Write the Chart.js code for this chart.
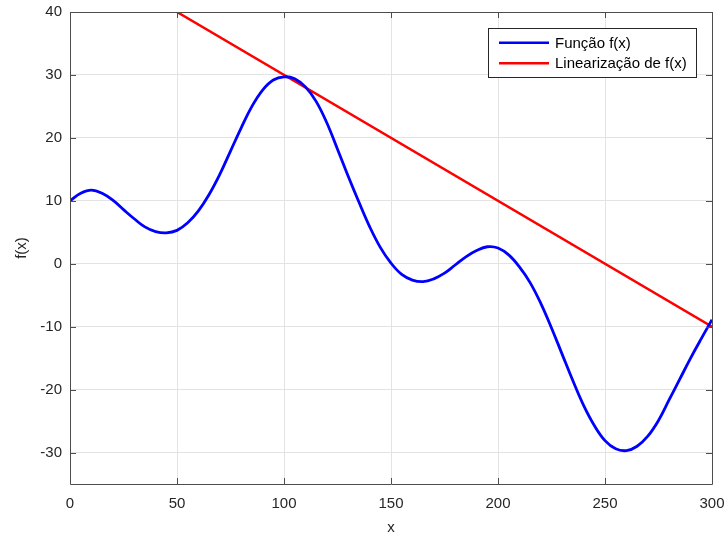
<!DOCTYPE html>
<html>
<head>
<meta charset="utf-8">
<script src="https://cdn.jsdelivr.net/npm/chart.js@4/dist/chart.umd.min.js"></script>
<style>
  html, body { margin: 0; padding: 0; background: #ffffff; }
  #wrap { width: 726px; height: 538px; }
</style>
</head>
<body>
<div id="wrap"><canvas id="c" width="726" height="538"></canvas></div>
<script>
// ---- data ----
const funcX = [0,5,10,15,20,25,30,35,40,45,50,55,60,65,70,75,80,85,90,95,100,105,110,115,120,125,130,135,140,145,150,155,160,165,170,175,180,185,190,195,200,205,210,215,220,225,230,235,240,245,250,255,260,265,270,275,280,285,290,295,300];
const funcY = [10.0,11.2,11.7,11.2,10.1,8.6,7.15,5.85,5.1,4.9,5.3,6.5,8.4,11.0,14.2,17.9,21.6,25.0,27.6,29.2,29.7,29.4,28.1,25.8,22.4,18.2,13.9,9.8,5.9,2.6,0.1,-1.7,-2.6,-2.85,-2.4,-1.5,-0.2,1.1,2.1,2.7,2.5,1.4,-0.5,-3.0,-6.3,-10.2,-14.4,-18.6,-22.5,-25.7,-28.1,-29.4,-29.7,-29.0,-27.4,-24.9,-21.6,-18.3,-15.0,-11.9,-8.9];
const linX = [50, 300];
const linY = [40, -10];
const seriesLabels = ['Função f(x)', 'Linearização de f(x)'];
const xTicks = [0, 50, 100, 150, 200, 250, 300];
const yTicks = [-30, -20, -10, 0, 10, 20, 30, 40];
const xTitle = 'x';
const yTitle = 'f(x)';

const FONT = "'Liberation Sans', Arial, Helvetica, sans-serif";
const TXT = '#262626';
const AXIS = '#4d4d4d';

const toPts = (xs, ys) => xs.map((x, i) => ({ x: x, y: ys[i] }));

const boxPlugin = {
  id: 'matlabBox',
  afterDatasetsDraw(chart) {
    const ctx = chart.ctx;
    const a = chart.chartArea;
    const xs = chart.scales.x, ys = chart.scales.y;
    ctx.save();
    ctx.strokeStyle = AXIS;
    ctx.lineWidth = 1;
    ctx.beginPath();
    ctx.rect(Math.round(a.left) + 0.5, Math.round(a.top) + 0.5,
             Math.round(a.right - a.left), Math.round(a.bottom - a.top));
    ctx.stroke();
    const tl = 6;
    ctx.beginPath();
    xTicks.forEach(v => {
      const px = Math.round(xs.getPixelForValue(v)) + 0.5;
      ctx.moveTo(px, a.bottom); ctx.lineTo(px, a.bottom - tl);
      ctx.moveTo(px, a.top); ctx.lineTo(px, a.top + tl);
    });
    yTicks.forEach(v => {
      const py = Math.round(ys.getPixelForValue(v)) + 0.5;
      ctx.moveTo(a.left, py); ctx.lineTo(a.left + tl, py);
      ctx.moveTo(a.right, py); ctx.lineTo(a.right - tl, py);
    });
    ctx.stroke();

    // legend
    const lx = 488, ly = 28, lw = 208, lh = 49;
    ctx.fillStyle = '#ffffff';
    ctx.fillRect(lx, ly, lw, lh);
    ctx.strokeStyle = '#262626';
    ctx.strokeRect(lx + 0.5, ly + 0.5, lw, lh);
    const rows = [42.7, 63.3];
    ctx.font = '15px ' + FONT;
    ctx.textBaseline = 'middle';
    ctx.textAlign = 'left';
    chart.data.datasets.forEach((ds, i) => {
      ctx.strokeStyle = ds.borderColor;
      ctx.lineWidth = 2.5;
      ctx.beginPath();
      ctx.moveTo(499, rows[i]); ctx.lineTo(549, rows[i]);
      ctx.stroke();
      ctx.fillStyle = '#000000';
      ctx.fillText(ds.label, 555, rows[i] + 1);
    });
    ctx.restore();
  }
};

new Chart(document.getElementById('c'), {
  type: 'scatter',
  data: {
    datasets: [
      { label: seriesLabels[0], data: toPts(funcX, funcY), showLine: true,
        borderColor: '#0000ff', backgroundColor: '#0000ff', borderWidth: 2.8,
        pointRadius: 0, tension: 0.4 },
      { label: seriesLabels[1], data: toPts(linX, linY), showLine: true,
        borderColor: '#ff0000', backgroundColor: '#ff0000', borderWidth: 2.5,
        pointRadius: 0 }
    ]
  },
  options: {
    responsive: false,
    animation: false,
    devicePixelRatio: 1,
    layout: { padding: { top: 12, right: 14, left: 0, bottom: 0 } },
    plugins: { legend: { display: false }, tooltip: { enabled: false } },
    scales: {
      x: {
        type: 'linear', min: 0, max: 300,
        afterFit(s) { s.height = 54; s.paddingLeft = 0; s.paddingRight = 0; },
        afterBuildTicks(s) { s.ticks = xTicks.map(v => ({ value: v })); },
        grid: { color: '#e3e3e3', lineWidth: 1, drawTicks: false },
        border: { display: false },
        ticks: { color: TXT, font: { family: FONT, size: 15 }, padding: 11, maxRotation: 0 },
        title: { display: true, text: xTitle, color: TXT, font: { family: FONT, size: 15 }, padding: { top: 0, bottom: 1 } }
      },
      y: {
        type: 'linear', min: -35, max: 40,
        afterFit(s) { s.width = 70; s.paddingTop = 0; s.paddingBottom = 0; },
        afterBuildTicks(s) { s.ticks = yTicks.map(v => ({ value: v })); },
        grid: { color: '#e3e3e3', lineWidth: 1, drawTicks: false },
        border: { display: false },
        ticks: { color: TXT, font: { family: FONT, size: 15 }, padding: 8 },
        title: { display: true, text: yTitle, color: TXT, font: { family: FONT, size: 15 }, padding: { top: 13, bottom: 0 } }
      }
    }
  },
  plugins: [boxPlugin]
});
</script>
</body>
</html>
